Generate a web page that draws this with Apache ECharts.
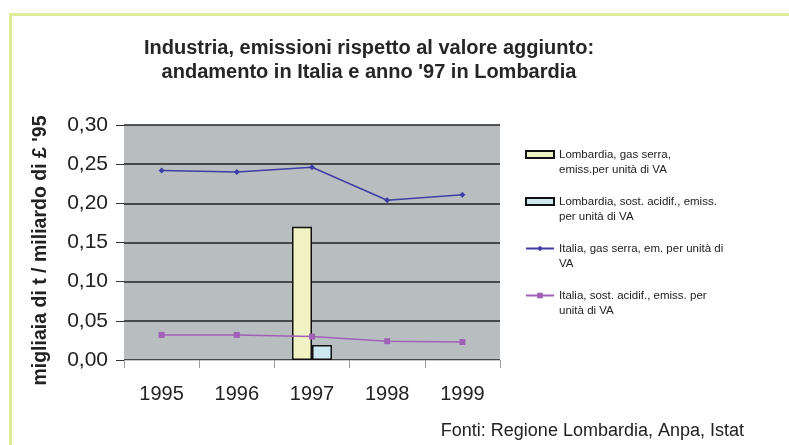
<!DOCTYPE html>
<html>
<head>
<meta charset="utf-8">
<script src="https://cdn.jsdelivr.net/npm/echarts@6/dist/echarts.min.js"></script>
<style>
  html, body { margin: 0; padding: 0; background: #fff; }
  #main { width: 789px; height: 445px; }
</style>
</head>
<body>
<div id="main"></div>
<script>
// dati
const anni = ["1995", "1996", "1997", "1998", "1999"];
const lombGasSerra = [null, null, 0.17, null, null];
const lombAcidif = [null, null, 0.019, null, null];
const italiaGasSerra = [0.242, 0.240, 0.246, 0.204, 0.211];
const italiaAcidif = [0.032, 0.032, 0.030, 0.024, 0.023];

const nomi = [
  "Lombardia, gas serra, emiss.per unità di VA",
  "Lombardia, sost. acidif., emiss. per unità di VA",
  "Italia, gas serra, em. per unità di VA",
  "Italia, sost. acidif., emiss. per unità di VA"
];
// testo della legenda su due righe (riga vuota davanti per allineare l'icona alla prima riga)
const nomiLegenda = {
  [nomi[0]]: "\nLombardia, gas serra,\nemiss.per unità di VA",
  [nomi[1]]: "\nLombardia, sost. acidif., emiss.\nper unità di VA",
  [nomi[2]]: "\nItalia, gas serra, em. per unità di\nVA",
  [nomi[3]]: "\nItalia, sost. acidif., emiss. per\nunità di VA"
};

const font = "Liberation Sans, Arial, sans-serif";
const chart = echarts.init(document.getElementById("main"));

const option = {
  backgroundColor: "#fff",
  animation: false,
  title: [
    {
      text: "Industria, emissioni rispetto al valore aggiunto:\nandamento in Italia e anno '97 in Lombardia",
      left: 364,
      top: 31,
      textAlign: "center",
      textStyle: { fontFamily: font, fontSize: 20, fontWeight: "bold", color: "#262626", lineHeight: 24 }
    },
    {
      text: "Fonti: Regione Lombardia, Anpa, Istat",
      right: 40,
      top: 417,
      textStyle: { fontFamily: font, fontSize: 18, fontWeight: "normal", color: "#222" }
    }
  ],
  graphic: [
    {
      type: "polyline",
      shape: { points: [[10.5, 445], [10.5, 14.5], [789, 14.5]] },
      style: { stroke: "#dfeb98", lineWidth: 3, fill: null },
      silent: true
    }
  ],
  legend: {
    orient: "vertical",
    left: 520,
    top: 127,
    itemWidth: 28,
    itemHeight: 7,
    itemGap: 2,
    data: [
      { name: nomi[0], icon: "rect" },
      { name: nomi[1], icon: "rect" },
      { name: nomi[2] },
      { name: nomi[3] }
    ],
    formatter: (n) => nomiLegenda[n],
    textStyle: { fontFamily: font, fontSize: 11.5, color: "#222", lineHeight: 15 }
  },
  grid: {
    left: 124,
    right: 289,
    top: 125,
    bottom: 85,
    show: true,
    backgroundColor: "#b8bec0",
    borderWidth: 0
  },
  xAxis: {
    type: "category",
    data: anni,
    axisLine: { show: true, lineStyle: { color: "#c8c8c8", width: 1 } },
    axisTick: { show: true, length: 8, lineStyle: { color: "#999" } },
    axisLabel: { fontFamily: font, fontSize: 20, color: "#222", margin: 24 }
  },
  yAxis: {
    type: "value",
    min: 0,
    max: 0.3,
    interval: 0.05,
    name: "migliaia di t / miliardo di £ '95",
    nameLocation: "middle",
    nameGap: 73,
    nameRotate: 90,
    nameTextStyle: {
      fontFamily: font, fontSize: 19.5, fontWeight: "bold", color: "#222",
      padding: [0, 16, 0, 0]
    },
    axisLine: { show: false },
    axisTick: { show: true, length: 8, lineStyle: { color: "#333" } },
    axisLabel: {
      fontFamily: font,
      fontSize: 21,
      color: "#222",
      margin: 16,
      formatter: (v) => v.toFixed(2).replace(".", ",")
    },
    splitLine: { show: true, lineStyle: { color: "#222", width: 1.5 } }
  },
  series: [
    {
      name: nomi[0],
      type: "bar",
      data: lombGasSerra,
      barWidth: 20,
      barGap: "0%",
      itemStyle: { color: "#f2f3c4", borderColor: "#111", borderWidth: 1.5 }
    },
    {
      name: nomi[1],
      type: "bar",
      data: lombAcidif,
      barWidth: 20,
      barGap: "0%",
      itemStyle: { color: "#cde8ef", borderColor: "#111", borderWidth: 1.5 }
    },
    {
      name: nomi[2],
      type: "line",
      data: italiaGasSerra,
      symbol: "diamond",
      symbolSize: 6,
      lineStyle: { color: "#3e3ea6", width: 1.5 },
      itemStyle: { color: "#3e3ea6" }
    },
    {
      name: nomi[3],
      type: "line",
      data: italiaAcidif,
      symbol: "rect",
      symbolSize: 6,
      lineStyle: { color: "#a160b8", width: 1.5 },
      itemStyle: { color: "#a160b8" }
    }
  ]
};

chart.setOption(option);
</script>
</body>
</html>
